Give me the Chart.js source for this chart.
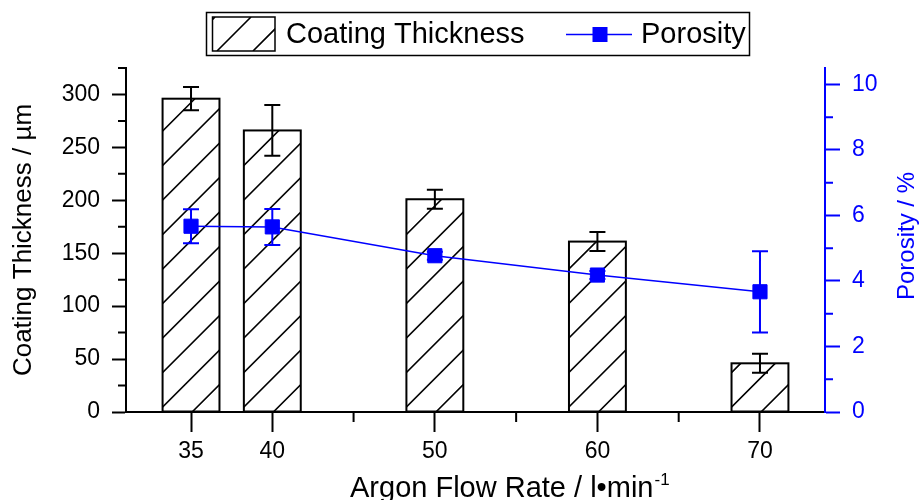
<!DOCTYPE html>
<html>
<head>
<meta charset="utf-8">
<script src="https://cdn.jsdelivr.net/npm/chart.js@4/dist/chart.umd.min.js"></script>
<style>
  html, body { margin: 0; padding: 0; background: #fff; }
  canvas { display: block; }
</style>
</head>
<body>
<canvas id="chart" width="920" height="500"></canvas>
<script>
// values
const flowRates = [35, 40, 50, 60, 70];
const thickness = [296, 266, 201, 161, 46];
const thicknessErr = [11, 24, 9, 9, 9];
const porosity = [5.67, 5.65, 4.77, 4.18, 3.67];
const porosityErr = [0.52, 0.55, 0.12, 0.12, 1.24];

const xTicks = [35, 40, 50, 60, 70];
const xMinorTicks = [45, 55, 65];
const yTicks = [0, 50, 100, 150, 200, 250, 300];
const yMinorTicks = [25, 75, 125, 175, 225, 275, 325];
const y1Ticks = [0, 2, 4, 6, 8, 10];
const y1MinorTicks = [1, 3, 5, 7, 9];

const BLUE = '#0000ff';
const FONT = '"Liberation Sans", Arial, sans-serif';

// diagonal "/" hatching inside a rect, lines cross the bottom edge at left+shift+k*step
function hatch(ctx, left, top, right, bottom, step, shift) {
  const h = bottom - top;
  ctx.save();
  ctx.beginPath();
  ctx.rect(left, top, right - left, h);
  ctx.clip();
  ctx.beginPath();
  let x0 = left + shift;
  while (x0 > left - h) x0 -= step;
  for (; x0 < right; x0 += step) {
    ctx.moveTo(x0, bottom);
    ctx.lineTo(x0 + h, top);
  }
  ctx.strokeStyle = '#000';
  ctx.lineWidth = 1.6;
  ctx.stroke();
  ctx.restore();
}

function errorBars(ctx, xs, ys, errs, xScale, yScale, color) {
  ctx.save();
  ctx.strokeStyle = color;
  ctx.lineWidth = 2;
  ctx.beginPath();
  xs.forEach((xv, i) => {
    const px = xScale.getPixelForValue(xv);
    const top = yScale.getPixelForValue(ys[i] + errs[i]);
    const bot = yScale.getPixelForValue(ys[i] - errs[i]);
    ctx.moveTo(px, top); ctx.lineTo(px, bot);
    ctx.moveTo(px - 8, top); ctx.lineTo(px + 8, top);
    ctx.moveTo(px - 8, bot); ctx.lineTo(px + 8, bot);
  });
  ctx.stroke();
  ctx.restore();
}

const decor = {
  id: 'decor',
  afterDatasetDraw(chart, args) {
    const ctx = chart.ctx;
    const { x, y, y1 } = chart.scales;
    if (args.index === 0) {
      args.meta.data.forEach(bar => {
        const p = bar.getProps(['x', 'y', 'base', 'width'], true);
        const l = p.x - p.width / 2, r = p.x + p.width / 2;
        hatch(ctx, l, p.y, r, p.base, 34.5, -4.5);
        ctx.save();
        ctx.strokeStyle = '#000';
        ctx.lineWidth = 2;
        ctx.strokeRect(l, p.y, p.width, p.base - p.y);
        ctx.restore();
      });
      errorBars(ctx, flowRates, thickness, thicknessErr, x, y, '#000');
    } else if (args.index === 1) {
      errorBars(ctx, flowRates, porosity, porosityErr, x, y1, BLUE);
    }
  },
  afterDraw(chart) {
    const ctx = chart.ctx;
    const { x, y, y1 } = chart.scales;
    const area = chart.chartArea;
    ctx.save();
    ctx.lineWidth = 2;

    // minor ticks
    ctx.strokeStyle = '#000';
    ctx.beginPath();
    xMinorTicks.forEach(v => {
      const px = x.getPixelForValue(v);
      ctx.moveTo(px, area.bottom); ctx.lineTo(px, area.bottom + 10);
    });
    yMinorTicks.forEach(v => {
      const py = y.getPixelForValue(v);
      ctx.moveTo(area.left, py); ctx.lineTo(area.left - 8, py);
    });
    ctx.stroke();
    ctx.strokeStyle = BLUE;
    ctx.beginPath();
    y1MinorTicks.forEach(v => {
      const py = y1.getPixelForValue(v);
      ctx.moveTo(area.right, py); ctx.lineTo(area.right + 8, py);
    });
    ctx.stroke();

    // legend
    ctx.strokeStyle = '#000';
    ctx.lineWidth = 1.5;
    ctx.strokeRect(206.5, 12.5, 543, 43);
    hatch(ctx, 212.5, 17, 275, 51, 36, 4.5);
    ctx.strokeRect(212.5, 17, 62.5, 34);
    ctx.fillStyle = '#000';
    ctx.font = '29px ' + FONT;
    ctx.textBaseline = 'middle';
    ctx.textAlign = 'left';
    ctx.fillText('Coating Thickness', 286, 35);
    ctx.strokeStyle = BLUE;
    ctx.beginPath();
    ctx.moveTo(566, 34.5); ctx.lineTo(632, 34.5);
    ctx.stroke();
    ctx.fillStyle = BLUE;
    ctx.fillRect(592.5, 27, 15, 15);
    ctx.fillStyle = '#000';
    ctx.fillText('Porosity', 641, 35);

    // x axis title with superscript
    ctx.textBaseline = 'alphabetic';
    ctx.font = '29px ' + FONT;
    const main = 'Argon Flow Rate / l\u2022min';
    ctx.fillText(main, 350, 497);
    const w = ctx.measureText(main).width;
    ctx.font = '17px ' + FONT;
    ctx.fillText('-1', 350 + w + 1, 485);

    // right axis title, reads bottom to top
    ctx.translate(907, 236);
    ctx.rotate(-Math.PI / 2);
    ctx.font = '24px ' + FONT;
    ctx.fillStyle = BLUE;
    ctx.textAlign = 'center';
    ctx.textBaseline = 'middle';
    ctx.fillText('Porosity / %', 0, 0);
    ctx.restore();
  }
};

Chart.defaults.font.family = FONT;

new Chart(document.getElementById('chart'), {
  type: 'bar',
  data: {
    datasets: [
      {
        type: 'bar',
        label: 'Coating Thickness',
        data: flowRates.map((v, i) => ({ x: v, y: thickness[i] })),
        backgroundColor: '#fff',
        borderColor: '#000',
        borderWidth: 0,
        barPercentage: 0.7,
        categoryPercentage: 1,
        xAxisID: 'x',
        yAxisID: 'y',
        order: 1,
      },
      {
        type: 'line',
        label: 'Porosity',
        data: flowRates.map((v, i) => ({ x: v, y: porosity[i] })),
        borderColor: BLUE,
        borderWidth: 1.5,
        pointStyle: 'rect',
        pointRadius: 10,
        pointBackgroundColor: BLUE,
        pointBorderColor: BLUE,
        pointBorderWidth: 1,
        tension: 0,
        xAxisID: 'x',
        yAxisID: 'y1',
        order: 0,
      },
    ],
  },
  options: {
    responsive: false,
    animation: false,
    devicePixelRatio: 1,
    layout: { padding: { top: 68, left: 0, right: 0, bottom: 0 } },
    plugins: { legend: { display: false }, tooltip: { enabled: false } },
    scales: {
      x: {
        type: 'linear',
        min: 31,
        max: 74,
        offset: false,
        afterBuildTicks: s => { s.ticks = xTicks.map(v => ({ value: v })); },
        afterFit: s => { s.height = 88; },
        grid: { offset: false, drawOnChartArea: false, tickLength: 20, tickWidth: 2, tickColor: '#000' },
        border: { display: true, color: '#000', width: 2 },
        ticks: { autoSkip: false, maxRotation: 0, padding: 6, color: '#000', font: { size: 23 } },
      },
      y: {
        position: 'left',
        min: 0,
        max: 325,
        afterBuildTicks: s => { s.ticks = yTicks.map(v => ({ value: v })); },
        afterFit: s => { s.width = 126; },
        grid: { drawOnChartArea: false, tickLength: 14, tickWidth: 2, tickColor: '#000' },
        border: { display: true, color: '#000', width: 2 },
        ticks: { padding: 12, color: '#000', font: { size: 23 } },
        title: {
          display: true,
          text: 'Coating Thickness / \u00b5m',
          color: '#000',
          font: { size: 26 },
          padding: { top: 8, bottom: 0 },
        },
      },
      y1: {
        position: 'right',
        min: 0,
        max: 10.5,
        afterBuildTicks: s => { s.ticks = y1Ticks.map(v => ({ value: v })); },
        afterFit: s => { s.width = 95; },
        grid: { drawOnChartArea: false, tickLength: 15, tickWidth: 2, tickColor: BLUE },
        border: { display: true, color: BLUE, width: 2 },
        ticks: { padding: 12, color: BLUE, font: { size: 23 } },
      },
    },
  },
  plugins: [decor],
});
</script>
</body>
</html>
